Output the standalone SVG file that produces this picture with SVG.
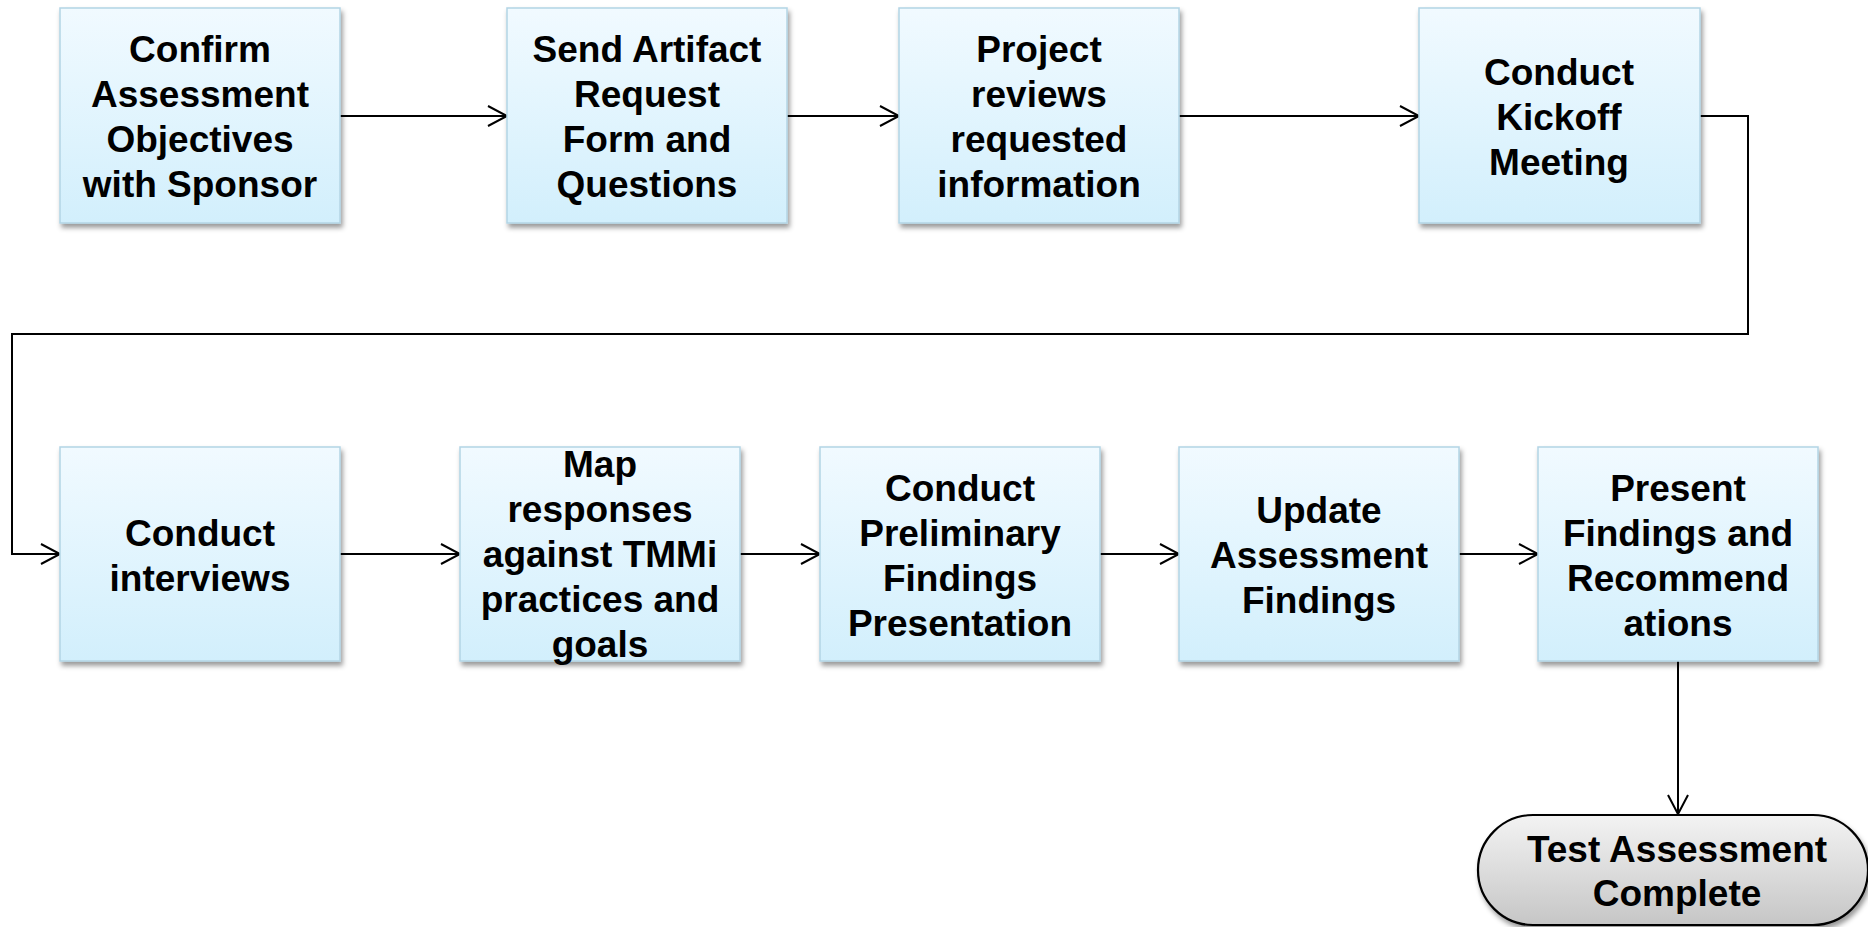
<svg xmlns="http://www.w3.org/2000/svg" width="1868" height="927" viewBox="0 0 1868 927">
<defs>
<linearGradient id="boxGrad" x1="0" y1="0" x2="0" y2="1">
<stop offset="0" stop-color="#f1faff"/>
<stop offset="1" stop-color="#d2effc"/>
</linearGradient>
<linearGradient id="termGrad" x1="0" y1="0" x2="0" y2="1">
<stop offset="0" stop-color="#f3f3f3"/>
<stop offset="1" stop-color="#c6c6c6"/>
</linearGradient>
<filter id="shadow" x="-10%" y="-10%" width="130%" height="130%">
<feDropShadow dx="2" dy="4" stdDeviation="2.5" flood-color="#000" flood-opacity="0.4"/>
</filter>
<marker id="arrow" markerUnits="userSpaceOnUse" markerWidth="24" markerHeight="24" refX="20" refY="11" orient="auto" viewBox="0 0 24 24">
<path d="M1,1 L20,11 L1,21" fill="none" stroke="#000" stroke-width="2"/>
</marker>
<style>
.box{fill:url(#boxGrad);stroke:#b3d5e5;stroke-width:1.5;filter:url(#shadow);}
.term{fill:url(#termGrad);stroke:#000;stroke-width:2.2;filter:url(#shadow);}
.lbl{font-family:"Liberation Sans",Arial,sans-serif;font-weight:bold;font-size:37px;fill:#000;text-anchor:middle;}
.conn{fill:none;stroke:#000;stroke-width:2;marker-end:url(#arrow);}
</style>
</defs>

<g id="connectors">
<path class="conn" d="M340,116 L507,116"/>
<path class="conn" d="M787,116 L899,116"/>
<path class="conn" d="M1179,116 L1419,116"/>
<path class="conn" d="M1700,116 L1748,116 L1748,334 L12,334 L12,554 L60,554"/>
<path class="conn" d="M340,554 L460,554"/>
<path class="conn" d="M740,554 L820,554"/>
<path class="conn" d="M1100,554 L1179,554"/>
<path class="conn" d="M1459,554 L1538,554"/>
<path class="conn" d="M1678,661 L1678,814"/>
</g>

<g id="n1">
<rect class="box" x="60" y="8" width="280" height="215"/>
<text class="lbl" x="200" y="62">Confirm</text>
<text class="lbl" x="200" y="107">Assessment</text>
<text class="lbl" x="200" y="152">Objectives</text>
<text class="lbl" x="200" y="197">with Sponsor</text>
</g>

<g id="n2">
<rect class="box" x="507" y="8" width="280" height="215"/>
<text class="lbl" x="647" y="62">Send Artifact</text>
<text class="lbl" x="647" y="107">Request</text>
<text class="lbl" x="647" y="152">Form and</text>
<text class="lbl" x="647" y="197">Questions</text>
</g>

<g id="n3">
<rect class="box" x="899" y="8" width="280" height="215"/>
<text class="lbl" x="1039" y="62">Project</text>
<text class="lbl" x="1039" y="107">reviews</text>
<text class="lbl" x="1039" y="152">requested</text>
<text class="lbl" x="1039" y="197">information</text>
</g>

<g id="n4">
<rect class="box" x="1419" y="8" width="281" height="215"/>
<text class="lbl" x="1559" y="85">Conduct</text>
<text class="lbl" x="1559" y="130">Kickoff</text>
<text class="lbl" x="1559" y="175">Meeting</text>
</g>

<g id="n5">
<rect class="box" x="60" y="447" width="280" height="214"/>
<text class="lbl" x="200" y="546">Conduct</text>
<text class="lbl" x="200" y="591">interviews</text>
</g>

<g id="n6">
<rect class="box" x="460" y="447" width="280" height="214"/>
<text class="lbl" x="600" y="477">Map</text>
<text class="lbl" x="600" y="522">responses</text>
<text class="lbl" x="600" y="567">against TMMi</text>
<text class="lbl" x="600" y="612">practices and</text>
<text class="lbl" x="600" y="657">goals</text>
</g>

<g id="n7">
<rect class="box" x="820" y="447" width="280" height="214"/>
<text class="lbl" x="960" y="501">Conduct</text>
<text class="lbl" x="960" y="546">Preliminary</text>
<text class="lbl" x="960" y="591">Findings</text>
<text class="lbl" x="960" y="636">Presentation</text>
</g>

<g id="n8">
<rect class="box" x="1179" y="447" width="280" height="214"/>
<text class="lbl" x="1319" y="523">Update</text>
<text class="lbl" x="1319" y="568">Assessment</text>
<text class="lbl" x="1319" y="613">Findings</text>
</g>

<g id="n9">
<rect class="box" x="1538" y="447" width="280" height="214"/>
<text class="lbl" x="1678" y="501">Present</text>
<text class="lbl" x="1678" y="546">Findings and</text>
<text class="lbl" x="1678" y="591">Recommend</text>
<text class="lbl" x="1678" y="636">ations</text>
</g>

<g id="n10">
<rect class="term" x="1478" y="815" width="390" height="110" rx="55" ry="55"/>
<text class="lbl" x="1677" y="862">Test Assessment</text>
<text class="lbl" x="1677" y="906">Complete</text>
</g>
</svg>
